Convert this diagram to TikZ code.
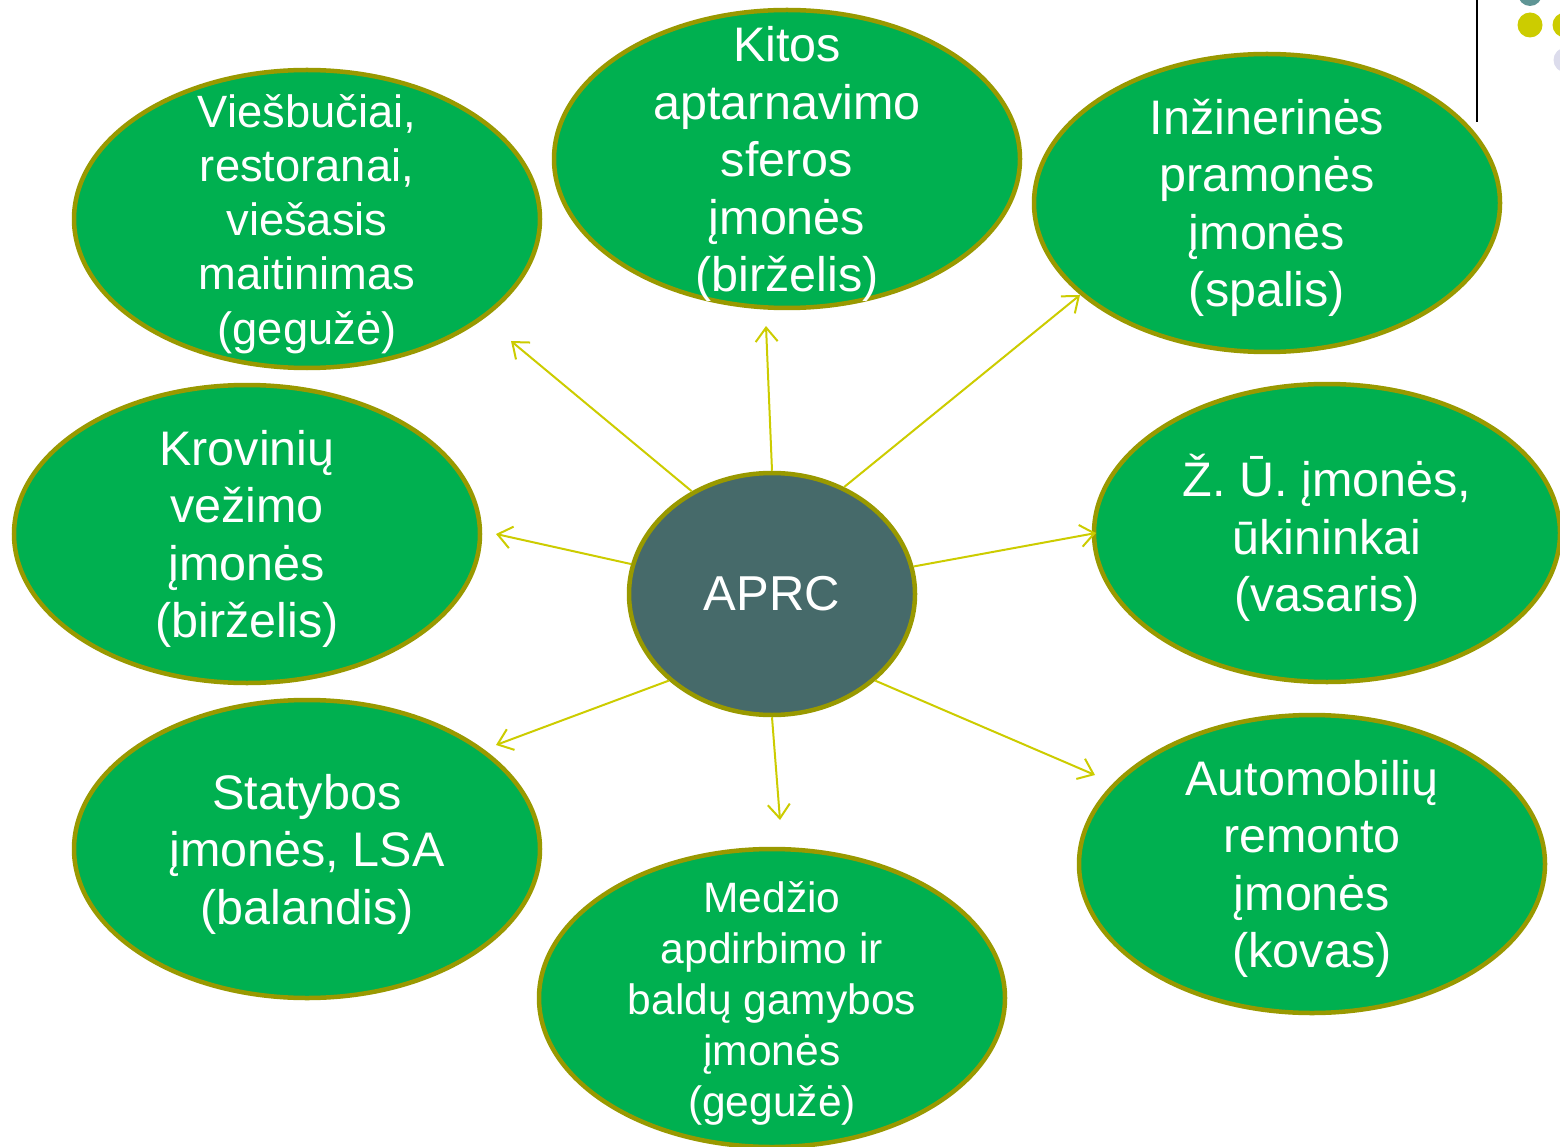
\documentclass[tikz,border=0pt]{standalone}
\usepackage{fontspec}
\setmainfont{Liberation Sans}
\usetikzlibrary{shapes.geometric,arrows.meta}
\definecolor{boxgreen}{HTML}{00B050}
\definecolor{rimolive}{HTML}{999900}
\definecolor{hubfill}{HTML}{466A6A}
\definecolor{arrowyel}{HTML}{CCCC00}
\definecolor{dotteal}{HTML}{5F9595}
\definecolor{dotlav}{HTML}{DCDCEC}
\begin{document}
\begin{tikzpicture}[x=1pt,y=-1pt,
  leaf/.style={ellipse, draw=rimolive, line width=4.5pt, fill=boxgreen,
    minimum width=466pt, minimum height=298pt, inner sep=0pt},
  leaftext/.style={text=white, align=center, inner sep=0pt, yshift=-5pt,
    font=\fontsize{48.5}{57.5}\selectfont},
  hub/.style={ellipse, draw=rimolive, line width=4.5pt, fill=hubfill, text=white,
    minimum width=286pt, minimum height=242pt, inner sep=0pt,
    font=\fontsize{49}{57}\selectfont},
  link/.style={draw=arrowyel, line width=2pt, -{Straight Barb[length=14pt,width=22pt,line width=2pt]}}
]
\useasboundingbox (0,0) rectangle (1560,1147);
% decoration top right
\draw[black, line width=2.2pt] (1477,0) -- (1477,122);
\fill[dotteal] (1530,-6) circle (12);
\fill[arrowyel] (1530,25) circle (12.5);
\fill[arrowyel] (1565,25) circle (12.5);
\fill[dotlav] (1566,60) circle (12.5);

\node[leaf] (a) at (307,219) {};
\node[leaf] (b) at (787,159) {};
\node[leaf] (c) at (1267,203) {};
\node[leaf] (d) at (247,534) {};
\node[leaf] (e) at (1327,533) {};
\node[leaf] (f) at (307,849) {};
\node[leaf] (g) at (1312,864) {};
\node[leaf] (h) at (772,998) {};

\node[leaftext, font=\fontsize{45.3}{54.2}\selectfont] (at) at (a.center) {Viešbučiai,\\restoranai,\\viešasis\\maitinimas\\(gegužė)};
\node[leaftext] (bt) at (b.center) {Kitos\\aptarnavimo\\sferos\\įmonės\\(birželis)};
\node[leaftext] (ct) at (c.center) {Inžinerinės\\pramonės\\įmonės\\(spalis)};
\node[leaftext] (dt) at (d.center) {Krovinių\\vežimo\\įmonės\\(birželis)};
\node[leaftext] (et) at (e.center) {Ž. Ū. įmonės,\\ūkininkai\\(vasaris)};
\node[leaftext] (ft) at (f.center) {Statybos\\įmonės, LSA\\(balandis)};
\node[leaftext] (gt) at (g.center) {Automobilių\\remonto\\įmonės\\(kovas)};
\node[leaftext, font=\fontsize{42.5}{51}\selectfont] (ht) at (h.center) {Medžio\\apdirbimo ir\\baldų gamybos\\įmonės\\(gegužė)};

\node[hub] (hub) at (772,594) {APRC};

\coordinate (ta) at (511,341);
\coordinate (tb) at (766,326);
\coordinate (tc) at (1080,295);
\coordinate (td) at (496,534);
\coordinate (te) at (1096,533);
\coordinate (tf) at (496,745);
\coordinate (th) at (780,820);
\coordinate (tg) at (1095,775);

\draw[link] (hub.128.3) -- (ta);
\draw[link] (hub.90) -- (tb);
\draw[link] (hub.56.6) -- (tc);
\draw[link] (hub.168.5) -- (td);
\draw[link] (hub.11.8) -- (te);
\draw[link] (hub.220.5) -- (tf);
\draw[link] (hub.270) -- (th);
\draw[link] (hub.320.1) -- (tg);
\end{tikzpicture}
\end{document}
